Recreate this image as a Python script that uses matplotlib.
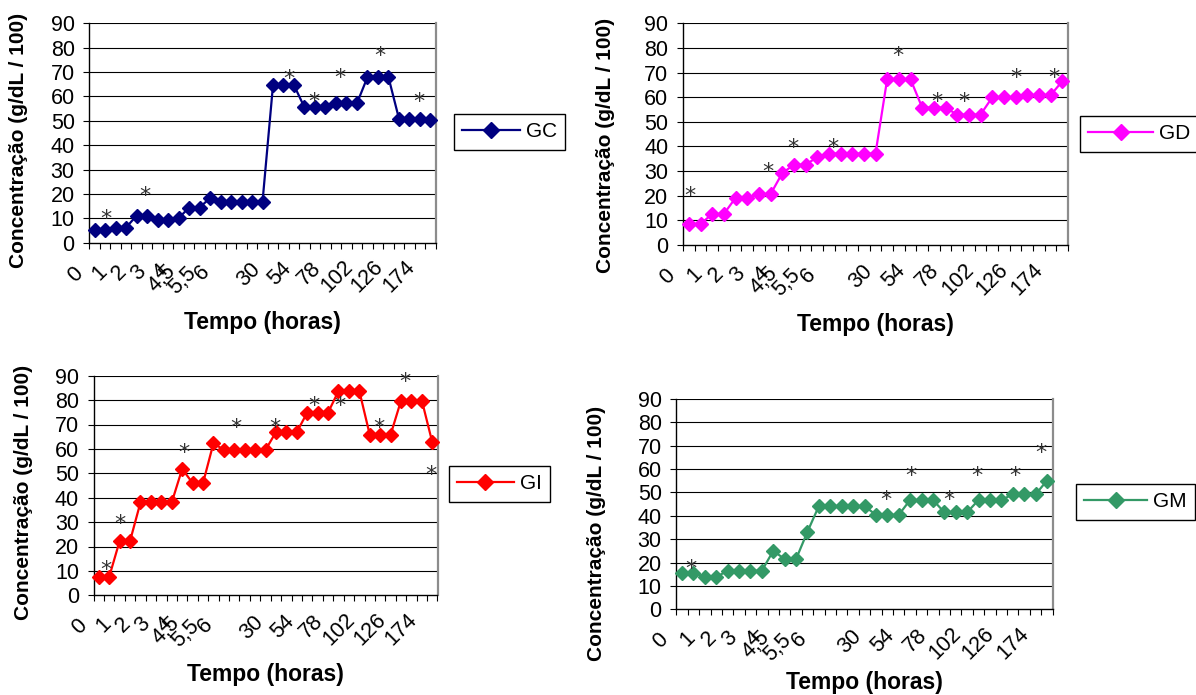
import matplotlib
matplotlib.use("Agg")
import matplotlib.pyplot as plt
from matplotlib.ticker import FixedLocator, NullFormatter
from matplotlib.lines import Line2D

plt.rcParams['font.family'] = ['Liberation Sans', 'DejaVu Sans']

# ---------------- data ----------------
x_labels = ["0", "1", "2", "3", "4", "4,5", "5,5", "6", "30", "54", "78", "102", "126", "174"]
y_ticks = [0, 10, 20, 30, 40, 50, 60, 70, 80, 90]

gc_values = [5.3, 5.3, 6.2, 6.2, 11.1, 11.1, 9.2, 9.2, 10.0, 14.4, 14.4, 18.3, 16.7, 16.7, 16.7,
             16.7, 16.7, 64.6, 64.6, 64.6, 55.5, 55.5, 55.5, 57.2, 57.2, 57.2, 67.9, 67.9, 67.9,
             50.9, 50.9, 50.9, 50.2]
gd_values = [8.5, 8.5, 12.6, 12.6, 19.1, 19.1, 20.6, 20.6, 29.1, 32.6, 32.6, 35.6, 37.1, 37.1, 37.1,
             37.1, 37.1, 67.3, 67.3, 67.3, 55.8, 55.8, 55.8, 52.9, 52.9, 52.9, 59.9, 59.9, 59.9,
             60.8, 60.8, 60.8, 66.4]
gi_values = [7.6, 7.6, 22.3, 22.3, 38.1, 38.1, 38.1, 38.1, 51.8, 46.0, 46.0, 62.3, 59.6, 59.6, 59.6,
             59.6, 59.6, 66.9, 66.9, 66.9, 74.9, 74.9, 74.9, 83.7, 83.7, 83.7, 65.8, 65.8, 65.8,
             79.8, 79.8, 79.8, 62.7]
gm_values = [15.7, 15.7, 13.8, 13.8, 16.5, 16.5, 16.5, 16.5, 25.0, 21.5, 21.5, 33.2, 44.2, 44.2, 44.2,
             44.2, 44.2, 40.4, 40.4, 40.4, 46.8, 46.8, 46.8, 41.5, 41.5, 41.5, 46.8, 46.8, 46.8,
             49.2, 49.2, 49.2, 55.1]

# significance asterisks (category position, height)
gc_star_x = [1.05, 4.8, 18.5, 20.9, 23.4, 27.2, 30.9]
gc_star_y = [12.4, 22.0, 69.9, 60.3, 70.2, 79.5, 60.6]
gd_star_x = [0.07, 6.77, 8.93, 12.33, 17.93, 21.27, 23.57, 28.0, 31.33]
gd_star_y = [22.7, 32.5, 42.0, 42.0, 79.6, 60.9, 60.9, 70.4, 70.4]
gi_star_x = [0.72, 2.05, 8.2, 13.2, 16.9, 20.6, 23.1, 26.9, 29.4, 31.9]
gi_star_y = [13.1, 32.2, 61.2, 71.2, 71.2, 80.5, 80.5, 71.2, 90.0, 52.0]
gm_star_x = [0.81, 17.87, 20.1, 23.44, 25.85, 29.2, 31.5]
gm_star_y = [20.0, 49.6, 59.9, 49.6, 59.9, 59.9, 69.6]

series_names = ["GC", "GD", "GI", "GM"]

# ---------------- layout ----------------
W, H = 1196, 695
fig = plt.figure(figsize=(W / 100, H / 100), dpi=100)
fig.patch.set_facecolor('white')

label_pos = [-1.85, 0.5, 2.35, 4.2, 6.3, 6.45, 8.36, 10.25, 14.7, 17.6, 20.45, 23.1, 26.0, 29.0]
label_dy = [32, 30, 30, 30, 29.6, 35.6, 38, 30.6, 32, 31, 31, 34, 34, 34]


def px_rect(l, t, r, b):
    return [l / W, 1 - b / H, (r - l) / W, (b - t) / H]


def draw_panel(rect, values, stars_x, stars_y, color, name, leg_xy, leg_hl, ylab_xy, xlab_xy):
    ax = fig.add_axes(px_rect(*rect))
    n = len(values)
    x = list(range(n))
    ax.set_xlim(-0.5, n - 0.5)
    ax.set_ylim(0, 90)
    for yv in y_ticks[1:]:
        ax.axhline(yv, color='black', lw=0.8, zorder=1)
    ax.plot(x, values, color=color, lw=1.6, marker='D', ms=7.0, mec=color, mfc=color,
            zorder=3, clip_on=False)
    for sx, sy in zip(stars_x, stars_y):
        ax.annotate('*', xy=(sx, sy), xytext=(0, -9.2), textcoords='offset points',
                    ha='center', va='baseline', fontsize=16, color='#333333',
                    family='DejaVu Sans', annotation_clip=False, zorder=4)
    # axes styling
    ax.spines['top'].set_visible(False)
    ax.spines['right'].set_color('#8c8c8c')
    ax.spines['right'].set_linewidth(1.6)
    ax.spines['left'].set_color('black')
    ax.spines['bottom'].set_color('black')
    ax.spines['left'].set_linewidth(1.0)
    ax.spines['bottom'].set_linewidth(1.0)
    ax.yaxis.set_major_locator(FixedLocator(y_ticks))
    ax.set_yticklabels([str(v) for v in y_ticks])
    ax.tick_params(axis='y', direction='out', length=4.5, width=0.8, pad=6, labelsize=15.5)
    ax.xaxis.set_major_locator(FixedLocator([i - 0.5 for i in range(n + 1)]))
    ax.xaxis.set_major_formatter(NullFormatter())
    ax.tick_params(axis='x', direction='out', length=4, width=0.8)
    # category labels
    for txt, p, dy in zip(x_labels, label_pos, label_dy):
        ax.annotate(txt, xy=(p, 0), xycoords=('data', 'axes fraction'),
                    xytext=(0, -dy * 0.72), textcoords='offset points',
                    rotation=45, rotation_mode='anchor', ha='center', va='center',
                    fontsize=15.5, annotation_clip=False)
    # legend
    h = Line2D([0], [0], color=color, lw=1.6, marker='D', ms=8, mec=color, mfc=color)
    leg = ax.legend([h], [name], loc='upper left',
                    bbox_to_anchor=(leg_xy[0] / W, 1 - leg_xy[1] / H),
                    bbox_transform=fig.transFigure, frameon=True, fancybox=False,
                    edgecolor='black', framealpha=1, fontsize=15, borderaxespad=0,
                    handlelength=leg_hl, handletextpad=0.3, borderpad=0.4, numpoints=1)
    leg.get_frame().set_linewidth(1.0)
    fig.text(ylab_xy[0] / W, 1 - ylab_xy[1] / H, 'Concentração (g/dL / 100)',
             rotation=90, ha='center', va='center', fontsize=15, fontweight='bold')
    fig.text(xlab_xy[0] / W, 1 - xlab_xy[1] / H, 'Tempo (horas)',
             ha='center', va='center', fontsize=16.5, fontweight='bold')
    return ax


draw_panel((89.3, 23.3, 435.7, 242.7), gc_values, gc_star_x, gc_star_y, '#000080', series_names[0],
           (454, 114), 2.75, (18.5, 140), (262, 323))
draw_panel((683, 23.3, 1068, 245), gd_values, gd_star_x, gd_star_y, '#FF00FF', series_names[1],
           (1080, 116), 3.1, (605, 145), (875, 324))
draw_panel((93.6, 375.7, 437.5, 595.3), gi_values, gi_star_x, gi_star_y, '#FF0000', series_names[2],
           (449, 466), 2.7, (24, 492), (265, 675))
draw_panel((676.3, 399, 1052.7, 609.3), gm_values, gm_star_x, gm_star_y, '#339966', series_names[3],
           (1076, 484), 3.0, (597, 533), (864, 682))

fig.savefig('out.png', dpi=100, facecolor='white')
